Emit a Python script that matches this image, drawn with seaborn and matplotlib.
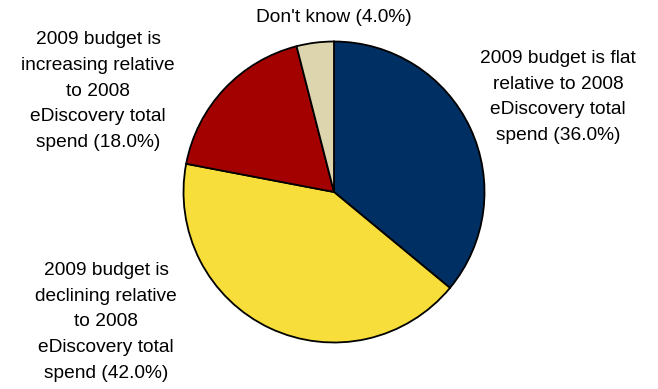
import matplotlib
matplotlib.use("Agg")
import matplotlib.pyplot as plt
import seaborn as sns

# Survey answers on 2009 eDiscovery budgets, share of respondents (%)
categories = [
    "2009 budget is flat\nrelative to 2008\neDiscovery total\nspend",
    "2009 budget is\ndeclining relative\nto 2008\neDiscovery total\nspend",
    "2009 budget is\nincreasing relative\nto 2008\neDiscovery total\nspend",
    "Don't know",
]
shares = [36.0, 42.0, 18.0, 4.0]
colors = ["#003063", "#F7DE3A", "#A30000", "#DDD5AD"]

sns.set_theme(style="white")
plt.rcParams["font.family"] = ["Liberation Sans", "DejaVu Sans"]

W, H = 658, 389
fig = plt.figure(figsize=(W / 100, H / 100), dpi=100)
fig.patch.set_facecolor("white")

# pie centred at (334, 192) px with radius 152 px
cx, cy, r = 334, 192, 152
ax = fig.add_axes([(cx - r) / W, (H - cy - r) / H, 2 * r / W, 2 * r / H])
ax.pie(
    shares,
    colors=sns.color_palette(colors),
    startangle=90,
    counterclock=False,
    radius=1.0,
    wedgeprops=dict(edgecolor="black", linewidth=1.3),
)
ax.set_xlim(-1.01, 1.01)
ax.set_ylim(-1.01, 1.01)
ax.set_aspect("equal")
ax.axis("off")

# label centres in pixels
label_pos = [(558, 97), (106, 322), (98, 91), (334, 18)]
for name, val, (x, y) in zip(categories, shares, label_pos):
    fig.text(
        x / W, 1 - y / H,
        f"{name} ({val:.1f}%)",
        ha="center", va="center", fontsize=13.8,
        linespacing=1.66, color="black",
    )

fig.savefig("out.png", dpi=100, facecolor="white")
